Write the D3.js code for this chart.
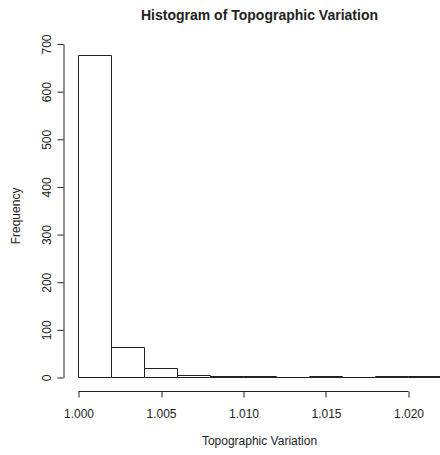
<!DOCTYPE html>
<html>
<head>
<meta charset="utf-8">
<script src="https://cdn.jsdelivr.net/npm/d3@7"></script>
<style>
  html, body { margin: 0; padding: 0; background: #fff; }
  svg { display: block; }
  text { font-family: "Liberation Sans", Arial, Helvetica, sans-serif; fill: #222; }
</style>
</head>
<body>
<svg id="chart" width="440" height="455"></svg>
<script>
// Data: histogram bins (Topographic Variation) and counts
const binStarts = [1.000, 1.002, 1.004, 1.006, 1.008, 1.010, 1.012, 1.014, 1.016, 1.018, 1.020];
const binWidth = 0.002;
const counts    = [676, 62, 18, 5, 2, 1, 0, 1, 0, 1, 1];
const xTicks = [1.000, 1.005, 1.010, 1.015, 1.020];
const yTicks = [0, 100, 200, 300, 400, 500, 600, 700];
const title = "Histogram of Topographic Variation";
const xLabel = "Topographic Variation";
const yLabel = "Frequency";

const svg = d3.select("#chart");

// Plot region (R-like, extends beyond the cropped image on the right)
const x = d3.scaleLinear().domain([0.99912, 1.02288]).range([63.5, 455.5]);
const y = d3.scaleLinear().domain([0, 700]).range([377, 43.5]);

const bins = binStarts.map((b, i) => ({ x0: b, x1: b + binWidth, n: counts[i] }));

// Bars drawn as closed paths so zero/near-zero heights still show as lines
svg.append("g")
  .selectAll("path")
  .data(bins)
  .join("path")
  .attr("d", d => {
    const xa = Math.round(x(d.x0)) + 0.5, xb = Math.round(x(d.x1)) + 0.5;
    const yb = Math.round(y(0)) + 0.5;
    const yt = d.n > 0 ? Math.min(Math.round(y(d.n)) + 0.5, yb - 1) : yb;
    const p = d3.path();
    p.moveTo(xa, yb); p.lineTo(xa, yt); p.lineTo(xb, yt); p.lineTo(xb, yb); p.closePath();
    return p.toString();
  })
  .attr("fill", "#fff")
  .attr("stroke", "#222")
  .attr("stroke-width", 1);

// X axis
const xAxisY = 391;
const gx = svg.append("g")
  .attr("transform", `translate(0.5,${xAxisY + 0.5})`)
  .call(d3.axisBottom(x).tickValues(xTicks).tickFormat(d3.format(".3f")).tickSize(6).tickSizeOuter(0));
gx.select(".domain").remove();
gx.append("line")
  .attr("x1", Math.round(x(xTicks[0])))
  .attr("x2", Math.round(x(xTicks[xTicks.length - 1])))
  .attr("y1", 0).attr("y2", 0)
  .attr("stroke", "#222");
gx.selectAll(".tick line").attr("stroke", "#222").attr("transform", d => `translate(${Math.round(x(d)) - x(d)},0)`);
gx.selectAll(".tick text")
  .attr("y", 26).attr("dy", 0)
  .style("font-size", "12px")
  .style("fill", "#222");

// Y axis
const gy = svg.append("g")
  .attr("transform", "translate(63.5,0.5)")
  .call(d3.axisLeft(y).tickValues(yTicks).tickFormat(d3.format("d")).tickSize(6).tickSizeOuter(0));
gy.select(".domain").attr("stroke", "#222");
gy.selectAll(".tick line").attr("stroke", "#222");
gy.selectAll(".tick text")
  .attr("transform", "rotate(-90)")
  .attr("x", 0).attr("y", -13).attr("dy", 0)
  .attr("text-anchor", "middle")
  .style("font-size", "12px")
  .style("fill", "#222");
svg.selectAll(".tick text").attr("font-family", null);

// Title
svg.append("text")
  .attr("x", (x.range()[0] + x.range()[1]) / 2)
  .attr("y", 19.5)
  .attr("text-anchor", "middle")
  .style("font-size", "14px")
  .style("font-weight", "bold")
  .text(title);

// X label
svg.append("text")
  .attr("x", (x.range()[0] + x.range()[1]) / 2)
  .attr("y", 445)
  .attr("text-anchor", "middle")
  .style("font-size", "12px")
  .text(xLabel);

// Y label
svg.append("text")
  .attr("transform", `translate(20,${(y(-27) + y(703)) / 2}) rotate(-90)`)
  .attr("text-anchor", "middle")
  .style("font-size", "12px")
  .text(yLabel);
</script>
</body>
</html>
